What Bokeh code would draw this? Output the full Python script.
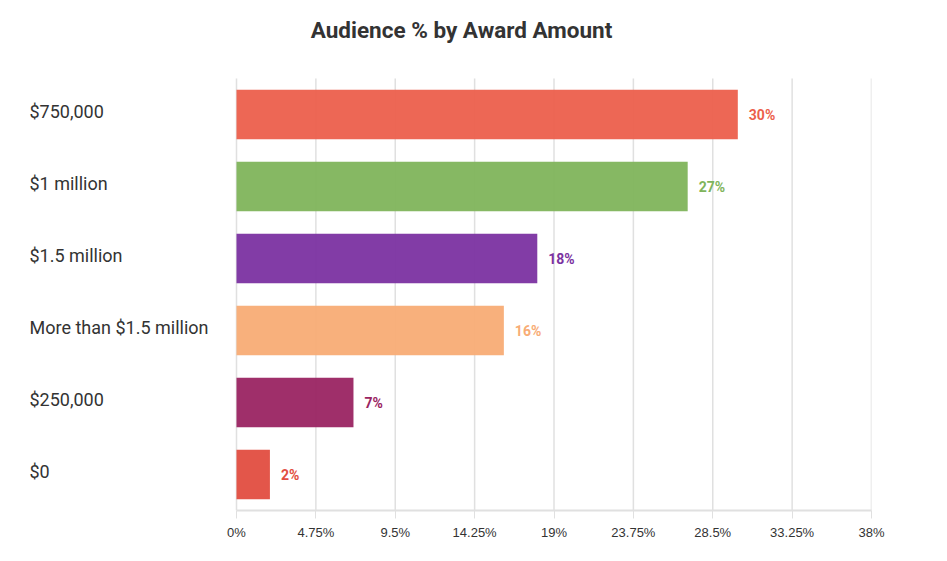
from bokeh.plotting import figure
from bokeh.models import ColumnDataSource, FixedTicker, Range1d
from bokeh.core.properties import value
from bokeh.embed import file_html
from bokeh.resources import INLINE

categories = ["$750,000", "$1 million", "$1.5 million", "More than $1.5 million", "$250,000", "$0"]
values = [30, 27, 18, 16, 7, 2]
colors = ["#EC5F4C", "#7FB45B", "#7B32A1", "#F8AC75", "#9A2462", "#E24D40"]
tick_values = [0, 4.75, 9.5, 14.25, 19, 23.75, 28.5, 33.25, 38]
tick_labels = ["0%", "4.75%", "9.5%", "14.25%", "19%", "23.75%", "28.5%", "33.25%", "38%"]
title_text = "Audience % by Award Amount"

N = len(categories)
X_MAX = 38
X_MIN = -X_MAX * 236 / 635      # room on the left for category labels inside the frame
Y_BOTTOM = N - 0.5
Y_PLOT_TOP = -0.5
Y_TOP = Y_PLOT_TOP - 78 / 72    # room at the top for the title inside the frame

pos = list(range(N))
src = ColumnDataSource(dict(pos=pos, cat=categories, val=values, color=colors,
                            lab=[f"{v}%" for v in values], lx=[X_MIN] * N))

p = figure(width=931, height=545, y_range=Range1d(Y_BOTTOM, Y_TOP),
           x_range=Range1d(X_MIN, X_MAX),
           output_backend="svg", toolbar_location=None,
           min_border_left=0, min_border_right=60, min_border_top=0, min_border_bottom=35)
p.outline_line_color = None
p.background_fill_color = "white"

# vertical grid lines over the plotting area only
p.segment(x0=tick_values, x1=tick_values, y0=[Y_PLOT_TOP] * len(tick_values),
          y1=[Y_BOTTOM] * len(tick_values), line_color="#e0e0e0", line_width=1.5)

p.hbar(y="pos", right="val", left=0, height=0.69, color="color", fill_alpha=0.95,
       line_color=None, source=src)
p.text(x="val", y="pos", text="lab", text_color="color", x_offset=11,
       text_align="left", text_baseline="middle", text_font_size="14px",
       text_font_style="bold", text_font=value("Roboto"), source=src)
p.text(x="lx", y="pos", text="cat", text_color="#333333", x_offset=29, y_offset=-3,
       text_align="left", text_baseline="middle", text_font_size="18px",
       text_font=value("Roboto"), source=src)

# chart title
p.text(x=[X_MIN], y=[Y_TOP], text=[title_text], x_offset=461, y_offset=29,
       text_align="center", text_baseline="middle", text_font=value("Roboto"),
       text_font_size="22.5px", text_font_style="bold", text_color="#333333")

p.xaxis.ticker = FixedTicker(ticks=tick_values)
p.xaxis.bounds = (0, X_MAX)
p.xaxis.major_label_overrides = {v: l for v, l in zip(tick_values, tick_labels)}
p.xaxis.axis_line_color = "#e0e0e0"
p.xaxis.axis_line_width = 2
p.xaxis.major_tick_line_color = "#e0e0e0"
p.xaxis.major_tick_out = 8
p.xaxis.major_tick_in = 0
p.xaxis.minor_tick_line_color = None
p.xaxis.major_label_text_font = "Liberation Sans"
p.xaxis.major_label_text_font_size = "13px"
p.xaxis.major_label_text_color = "#333333"
p.xaxis.major_label_standoff = 6

p.yaxis.visible = False
p.xgrid.grid_line_color = None
p.ygrid.grid_line_color = None

open("out.html", "w").write(file_html(p, INLINE))
